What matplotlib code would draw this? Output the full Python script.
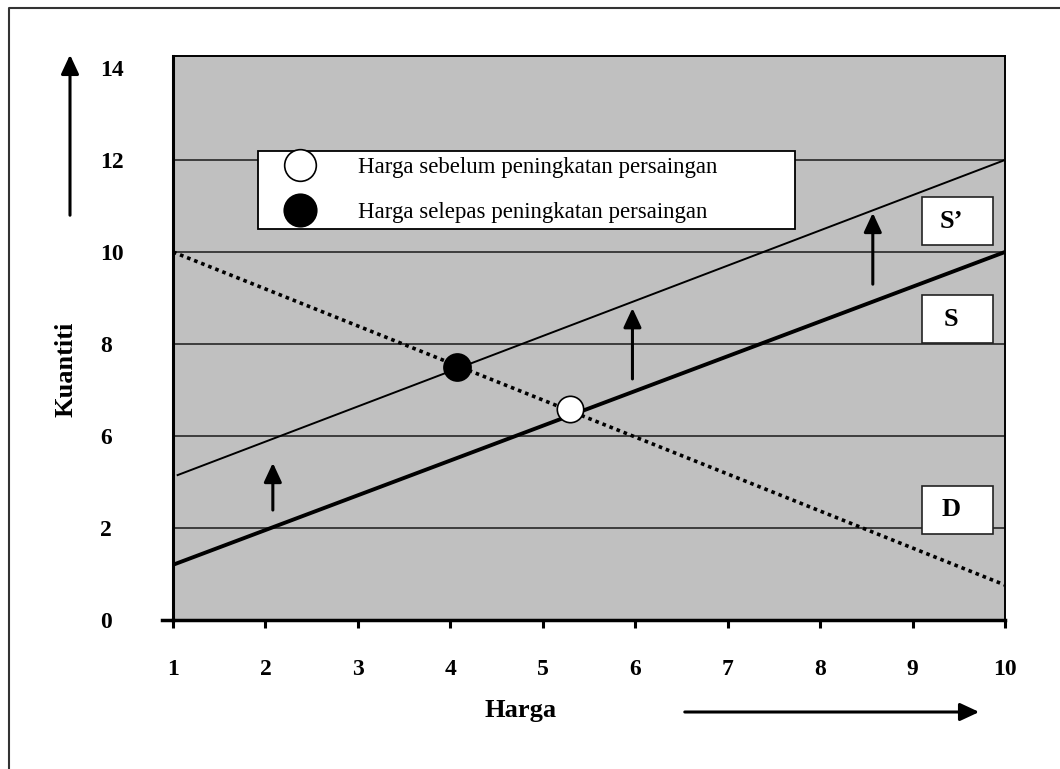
import numpy as np
import matplotlib
matplotlib.use('Agg')
import matplotlib.pyplot as plt
from matplotlib.patches import Rectangle
from matplotlib.lines import Line2D

plt.rcParams['font.family'] = ['Liberation Serif', 'DejaVu Serif']

# chart values (Harga on x, Kuantiti on y)
x_ticks = [1, 2, 3, 4, 5, 6, 7, 8, 9, 10]
y_ticks = [0, 2, 6, 8, 10, 12, 14]   # labels as printed, evenly spaced on the axis
grid_vals = [2, 6, 8, 10, 12]

s_x = [1, 10]
s_y = [1.2, 10.0]
s2_x = [1.05, 10]
s2_y = [4.3, 12.0]
d_x = [1, 10]
d_y = [10.0, 0.76]

before_x, before_y = [5.29], [6.59]
after_x, after_y = [4.07], [7.5]

shift_x = [2.08, 5.97, 8.57]
shift_y0 = [2.78, 7.24, 9.30]
shift_y1 = [4.83, 8.78, 10.85]

labels = ['S\u2019', 'S', 'D']

# the axis spaces the printed labels evenly -> piecewise mapping
scale_vals = np.array(y_ticks + [16], dtype=float)
scale_pos = np.arange(len(scale_vals), dtype=float)


def fwd(v):
    return np.interp(v, scale_vals, scale_pos)


def inv(p):
    return np.interp(p, scale_pos, scale_vals)


W, H = 1060, 769
fig = plt.figure(figsize=(W / 100, H / 100), dpi=100)
ax = fig.add_axes([173 / W, 1 - 620 / H, 832 / W, 564 / H])
ax.set_facecolor('#c0c0c0')
ax.set_yscale('function', functions=(fwd, inv))
ax.set_xlim(1, 10)
ax.set_ylim(0, inv(6.13))

ax.hlines(grid_vals, 1, 10, color='#1a1a1a', lw=1.1, zorder=1)

ax.plot(s_x, s_y, color='black', lw=2.8, zorder=3)
ax.plot(s2_x, s2_y, color='black', lw=1.4, zorder=3)
ax.plot(d_x, d_y, color='black', lw=2.6, linestyle=(0, (1, 1.1)), zorder=3)

ax.plot(after_x, after_y, 'o', ms=19.5, mfc='black', mec='black', mew=1.2,
        zorder=5, label='Harga selepas peningkatan persaingan')
ax.plot(before_x, before_y, 'o', ms=19, mfc='white', mec='black', mew=1.2,
        zorder=5, label='Harga sebelum peningkatan persaingan')

for xa, ya, yb in zip(shift_x, shift_y0, shift_y1):
    ax.annotate('', xy=(xa, yb), xytext=(xa, ya),
                arrowprops=dict(arrowstyle='-|>,head_length=0.43,head_width=0.2',
                                mutation_scale=27, lw=2.2, color='black',
                                shrinkA=0, shrinkB=0), zorder=4)

# label boxes S', S, D (pixel layout -> axes fraction)
box_tops = [197, 295, 486]
for lab, top in zip(labels, box_tops):
    bx = (922 - 173) / 832
    by = (620 - (top + 48)) / 564
    ax.add_patch(Rectangle((bx, by), 71 / 832, 48 / 564, transform=ax.transAxes,
                           facecolor='white', edgecolor='#222222', lw=1.2, zorder=6))
    ax.text((951 - 173) / 832, (620 - (top + 24)) / 564, lab, transform=ax.transAxes,
            ha='center', va='center', fontsize=19, fontweight='bold', zorder=7)

# axes styling
for side in ['top', 'right']:
    ax.spines[side].set_linewidth(1.4)
ax.spines['left'].set_linewidth(2.2)
ax.spines['bottom'].set_linewidth(2.5)
ax.add_line(Line2D([-11 / 832, 0], [0, 0], transform=ax.transAxes, color='black',
                   lw=2.5, clip_on=False))

ax.set_xticks(x_ticks)
ax.set_xticklabels([str(v) for v in x_ticks], fontsize=17, fontweight='bold')
ax.tick_params(axis='x', direction='out', length=5.8, width=2.2, pad=22)

ax.set_yticks(y_ticks)
ax.set_yticks([], minor=True)
ax.set_yticklabels([str(v) for v in y_ticks], fontsize=17, fontweight='bold')
ax.tick_params(axis='y', length=0, pad=52.5)
for t in ax.get_yticklabels():
    t.set_horizontalalignment('left')

ax.set_xlabel('Harga', fontsize=19, fontweight='bold', va='center')
ax.xaxis.set_label_coords((521 - 173) / 832, (620 - 710) / 564)
ax.set_ylabel('Kuantiti', fontsize=19, fontweight='bold', va='center', ha='center')
ax.yaxis.set_label_coords((66 - 173) / 832, (620 - 369) / 564)

handles, labs = ax.get_legend_handles_labels()
leg = ax.legend(handles[::-1], labs[::-1], loc='upper left', mode='expand',
                bbox_to_anchor=(258 / W, 1 - 229 / H, 537 / W, 78 / H),
                bbox_transform=fig.transFigure, borderaxespad=0,
                fontsize=16.5, markerscale=1.2, frameon=True, fancybox=False,
                framealpha=1, edgecolor='black', borderpad=0.26,
                handlelength=3.13, handletextpad=0.96, labelspacing=1.04)
leg.get_frame().set_linewidth(1.3)
leg.set_zorder(8)

# direction arrows outside the plot
fig.add_artist(matplotlib.patches.FancyArrowPatch(
    (70, H - 218), (70, H - 52), transform=None,
    arrowstyle='-|>,head_length=0.43,head_width=0.2', mutation_scale=27,
    lw=2.2, color='black'))
fig.add_artist(matplotlib.patches.FancyArrowPatch(
    (682, H - 712), (982, H - 712), transform=None,
    arrowstyle='-|>,head_length=0.43,head_width=0.2', mutation_scale=27,
    lw=2.2, color='black'))

# outer frame (only left and top edges show)
fig.add_artist(Line2D([9 / W, 9 / W, 1], [0, 1 - 8 / H, 1 - 8 / H],
                      transform=fig.transFigure, color='#333333', lw=1.5))

fig.savefig('out.png', dpi=100)
